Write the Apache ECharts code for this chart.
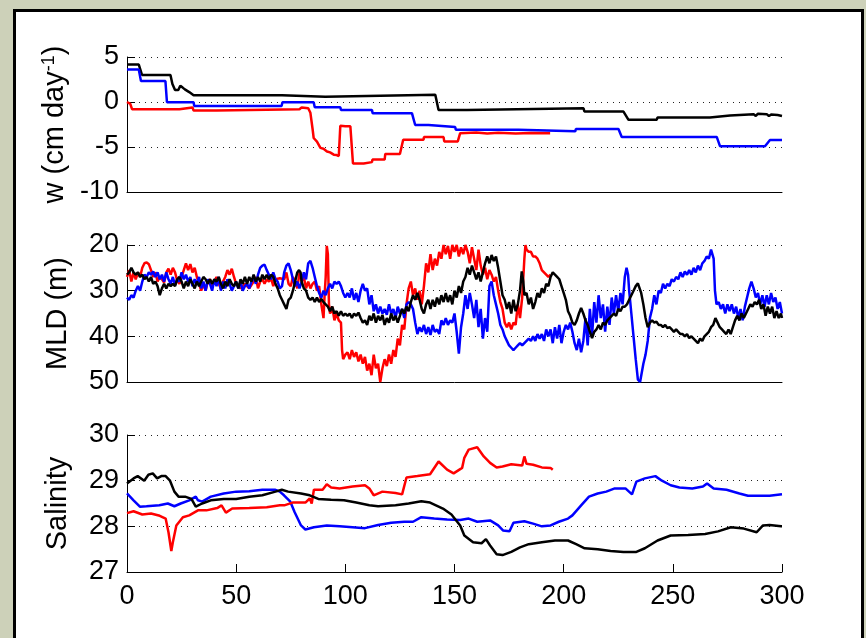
<!DOCTYPE html>
<html>
<head>
<meta charset="utf-8">
<title>w, MLD and salinity</title>
<style>
  html, body { margin: 0; padding: 0; width: 866px; height: 638px; overflow: hidden; background: #cdd1b9; }
  #frame { position: absolute; left: 13px; top: 9px; width: 851px; height: 660px; background: #ffffff; border: 3px solid #000000; box-sizing: border-box; }
  #chart { position: absolute; left: 0; top: 0; width: 866px; height: 638px; }
</style>
<script src="https://cdn.jsdelivr.net/npm/echarts@6/dist/echarts.min.js"></script>
</head>
<body>
<div id="frame"></div>
<div id="chart"></div>
<script>
// ---- x axis (days) ----
const xTicks = [0, 50, 100, 150, 200, 250, 300];

// ---- vertical velocity w (cm/day), [day, value] ----
const wRed = [[0,0],[1.5,-0.2],[2.3,-0.8],[24,-0.8],[24.4,-0.6],[30,-0.6],[30.5,-0.95],[41,-0.95],[41.3,-0.8],[79,-0.8],[80,-0.6],[83,-0.7],[84,-1.2],[85,-3.0],[85.5,-4.0],[87,-4.4],[88.6,-5.1],[90,-5.2],[91.6,-5.5],[93,-5.6],[94.7,-5.85],[96,-5.9],[97,-6.0],[97.5,-6.0],[97.7,-2.64],[100,-2.7],[102.3,-2.7],[103.5,-6.83],[108.4,-6.83],[108.6,-6.68],[112.2,-6.68],[112.4,-6.4],[118,-6.4],[118.3,-5.77],[125,-5.77],[126.5,-4.2],[130,-4.2],[135.8,-4.2],[136,-3.9],[145,-3.9],[145.3,-4.38],[151.5,-4.38],[152.6,-3.46],[160,-3.4],[165,-3.5],[170,-3.42],[178,-3.5],[185,-3.44],[193.8,-3.46]];
const wBlue = [[0,3.6],[5.4,3.6],[6.4,2.32],[17.6,2.32],[18.3,-0.03],[30.5,-0.03],[30.8,-0.44],[70.8,-0.44],[71.2,-0.03],[85.5,-0.03],[86,-0.58],[97.7,-0.58],[98,-0.88],[112.2,-0.88],[112.5,-1.24],[130.5,-1.24],[132,-2.56],[138.1,-2.56],[138.4,-2.78],[150.3,-2.78],[150.6,-3.07],[179.3,-3.07],[179.6,-3.26],[205.3,-3.26],[205.6,-3.0],[225.1,-3.0],[226.6,-3.88],[270.1,-3.88],[271.6,-4.91],[292.2,-4.91],[294.5,-4.22],[300,-4.22]];
const wBlack = [[0,4.16],[5.4,4.16],[6.9,3.0],[19.9,3.0],[20.8,2.0],[22,1.33],[23.5,1.33],[24.4,1.81],[25.5,1.6],[26.5,1.4],[28.5,1.1],[30.5,0.74],[71,0.74],[71.3,0.59],[90.8,0.59],[91.1,0.81],[141.2,0.81],[142.7,-0.88],[155.7,-0.88],[156,-0.7],[209.1,-0.7],[209.5,-1.06],[227.4,-1.06],[229.7,-1.98],[242.6,-1.98],[243,-1.72],[267,-1.72],[267.3,-1.5],[276.2,-1.5],[276.5,-1.35],[287,-1.35],[288,-1.55],[289,-1.3],[293,-1.35],[294,-1.55],[295,-1.4],[298,-1.45],[300,-1.55]];

// ---- mixed layer depth (m), [day, value] ----
const mldRed = [[0,27],[1,25.5],[2,28],[3,26],[4,27.5],[5,26],[6,27],[7,25],[8,24],[9,23.8],[10,24.2],[11,25.5],[12,27],[13,26],[14,28],[15,27],[16,27.5],[17,28.2],[18,26],[19,25.2],[20,26.5],[21,25],[22,26],[23,27.8],[24,28.5],[25,27],[26,25.5],[27,24],[28,25.5],[29,24.2],[30,26],[31,25],[32,27],[33,28.5],[34,30],[35,28.5],[36,30],[37,28],[38,27.5],[39,29],[40,28],[41,27],[42,28.5],[43,29.5],[44,28],[45,27],[46,25.5],[47,26.5],[48,25.2],[49,27],[50,28.5],[52,29.5],[54,28.5],[56,29.5],[58,28],[59,27],[60,29.5],[61,28],[62,27.5],[63,28.5],[64,27.5],[65,28],[66,27.3],[67,29],[68,27.5],[70,27.3],[72,27.5],[73,26],[74,28.5],[75,29],[76,27],[77,28],[78,29.5],[79,26],[80,28],[81,27],[82,29.5],[83,28],[84,29.5],[85,28.5],[86,28],[87,30],[88,29],[89,33],[90,36],[90.5,31],[91,27],[91.5,20.2],[92,22],[92.5,33],[93,35],[94,33.5],[95,36.5],[96,35],[97,36.5],[98,37],[98.5,43],[99,45],[100,44],[101,43.5],[102,45],[103,43],[104,44.5],[105,43.5],[106,45.5],[107,44],[108,46],[109,44.5],[110,47.5],[111,46],[112,48.5],[113,44],[114,47],[115,46],[116,50],[117,47],[118,45],[119,46.5],[120,44],[121,46],[122,43],[123,44.5],[124,40.5],[125,42],[126,37.5],[127,38.5],[128,33],[129,29.5],[130,28],[131,31],[132,29.5],[133,32],[134,30],[135,33],[136,29],[137,24],[138,26],[139,22],[140,25.5],[141,23],[142,24.5],[143,21.5],[144,23],[145,20],[146,22],[147,20.2],[148,23],[149,20],[150,21.5],[151,20],[152,22.5],[153,20.5],[154,22],[155,20],[156,21.5],[157,24],[158,20.5],[159,23],[160,25.5],[161,21],[162,24.5],[163,26.5],[164,25],[165,27.5],[166,25.5],[167,26.5],[168,28],[169,27],[170,30],[171,32.5],[172,34],[173,37],[174,38],[175,37],[176,38.5],[177,37],[178,37.5],[179,33],[180,36],[181,31.5],[182,23],[182.5,20],[183,21],[184,21.5],[185,21.5],[186,22.5],[187,22.5],[188,23],[189,24],[190,25.5],[191,26],[192,26.5],[193,27],[194,26.5]];
const mldBlue = [[0,31.5],[1,32],[2,31],[3,31.5],[4,30],[5,29],[6,30],[7,28],[8,26.5],[9,27],[10,26],[11,26.5],[12,25.8],[13,27],[14,26],[15,27.5],[16,26.5],[17,28],[18,26],[19,27.5],[20,28.5],[21,27],[22,28.8],[23,27.5],[24,28],[25,26],[26,27.5],[27,26.5],[28,28],[29,27],[30,29],[31,27.5],[32,28.5],[33,27],[34,29.5],[35,28],[36,30],[37,27.5],[38,28.5],[39,30],[40,27.5],[41,29],[42,27],[43,30],[44,28],[45,29.5],[46,27.5],[47,28.5],[48,30],[49,29],[50,28],[51,29.5],[52,28],[53,30],[54,29],[55,28.5],[56,29.5],[57,28],[58,27],[59,28.5],[60,26.5],[61,25],[62,24.5],[63,24.3],[64,25.5],[65,26.5],[66,27.5],[67,26],[68,27.5],[69,28],[70,29.5],[71,29],[72,26],[73,24.5],[74,24],[75,25.5],[76,27.5],[77,29],[78,28],[79,29.5],[80,28],[81,26],[82,27.5],[83,24],[84,23.5],[85,25],[86,27],[87,29],[88,30.5],[89,31.5],[90,30],[91,31],[92,29.5],[93,28.5],[94,29.5],[95,28],[96,28.5],[97,28],[98,29],[99,30.5],[100,31.5],[101,30.5],[102,31.5],[103,29.5],[104,32],[105,30.5],[106,32.5],[107,30],[108,28.5],[109,30],[110,29.5],[111,33],[112,31],[113,34.5],[114,33],[115,35],[116,33.5],[117,35],[118,34],[119,35.3],[120,33],[121,35],[122,34],[123,36],[124,33.5],[125,35],[126,34],[127,36],[128,33],[129,32.5],[130,33],[131,34],[132,37],[133,39.5],[134,38],[135,39],[136,37.5],[137,39.5],[138,38],[139,39.7],[140,37.5],[141,39],[142,38.5],[143,39.5],[144,36.5],[145,37.5],[146,36],[147,37.5],[148,36.5],[149,37],[150,35],[151,39],[152,43.8],[153,38],[154,35],[155,31],[156,34],[157,30.5],[158,33],[159,36],[160,32],[161,38],[162,34],[163,40.5],[164,36],[165,39],[166,29],[167,28],[168,31],[169,33],[170,35],[171,37.5],[172,38.5],[173,40],[174,41],[175,42],[176,42.5],[177,43],[178,42.5],[179,42],[180,41.5],[181,42],[182,41.5],[183,41],[184,40.5],[185,41],[186,40],[187,41],[188,39.5],[189,40.5],[190,39.5],[191,41],[192,38.5],[193,40],[194,38.5],[195,41.5],[196,38],[197,40.5],[198,37.5],[199,41.5],[200,39],[201,37.5],[202,38.5],[203,37],[204,39],[205,41.5],[206,43],[207,40.5],[208,43.5],[209,41],[210,36],[211,42],[212,34],[213,40],[214,32.5],[215,37],[216,31],[217,36],[218,33],[219,39],[220,33.5],[221,37.5],[222,31.5],[223,35],[224,31],[225,34.5],[226,30.5],[227,33],[228,27],[228.8,25],[229.5,26.5],[230,30],[231,35],[232,40],[233,45],[234,49.5],[235,50],[235.7,50],[236.5,46],[237.5,44],[238.5,41],[239.5,36],[240.5,34],[241.5,31],[242.5,33],[243.5,30],[244.5,30.5],[245.5,28.5],[246.5,29.5],[247.5,28.5],[248.5,29],[249.5,27.5],[250.5,28],[251.5,27],[252.5,27.5],[253.5,26],[254.5,27],[255.5,25.8],[256.5,26.5],[257.5,25.5],[258.5,26.5],[259.5,25],[260.5,26],[261.5,24.5],[262.5,25.5],[263.5,24],[264.5,23.5],[265.5,22.5],[266.5,23],[267.5,21],[268,20.7],[268.7,23],[269.3,30],[270,33],[271,32.5],[272,34],[273,33],[274,35],[275,33],[276,34.5],[277,33],[278,35],[279,33.5],[280,36],[281,34],[282,36.5],[283,33.5],[284,31.5],[285,29.5],[286,28],[287,29.5],[288,31.5],[289,30.5],[290,33],[291,31],[292,33.5],[293,31],[294,33],[295,30.5],[296,32.5],[297,31.5],[298,34],[299,32.5],[300,35]];
const mldBlack = [[0,26.5],[1,26],[2,25],[3,26],[4,26.5],[5,26],[6,27],[7,26.5],[8,27.5],[9,27],[10,28],[11,27],[12,28.5],[13,28],[14,29],[15,31],[16,29.5],[17,28.5],[18,29.5],[19,28.5],[20,29],[21,28.5],[22,29],[23,27.5],[24,27],[25,28],[26,29.5],[27,28],[28,29],[29,27.5],[30,28.5],[31,29.5],[32,28],[33,29],[34,28],[35,27],[36,27.5],[37,28.5],[38,27.5],[39,28.5],[40,27.5],[41,28],[42,27],[43,28.5],[44,29.5],[45,28],[46,29],[47,27.5],[48,28.5],[49,29],[50,28],[51,29.5],[52,27.5],[53,28.5],[54,27],[55,28.5],[56,27],[57,28],[58,26.5],[59,28],[60,27],[61,28],[62,26.5],[63,27.5],[64,26.5],[65,27.5],[66,26.5],[67,27],[68,28.5],[69,29.5],[70,31],[71,32],[72,33],[73,34],[74,32],[75,31.5],[76,30],[77,28],[78,26],[78.8,25.5],[79.5,26],[80,28],[81,29.5],[82,30],[83,31.5],[84,32],[85,31.5],[86,32.5],[87,31.5],[88,32.5],[89,31.8],[90,32.5],[91,33],[92,33.5],[93,34.5],[94,33.5],[95,35],[96,34.5],[97,35.5],[98,34.5],[99,35.5],[100,35],[101,35.5],[102,35],[103,36],[104,35],[105,35.5],[106,34.8],[107,36],[108,37],[109,36.5],[110,37.5],[111,35.5],[112,36.5],[113,35],[114,37],[115,35.5],[116,36.5],[117,35.3],[118,37.5],[119,36],[120,37],[121,35],[122,36.5],[123,35.5],[124,37],[125,35.5],[126,34],[127,35],[128,33.5],[129,34.5],[130,32.5],[131,31],[132,32],[133,30.5],[134,32],[135,34],[136,35],[137,33],[138,32],[139,34],[140,32],[141,33.5],[142,31.5],[143,33],[144,31],[145,32.5],[146,30.5],[147,32.5],[148,31],[149,33],[150,30],[151,31.5],[152,29],[153,30.5],[154,28],[155,27],[156,25],[157,26.5],[158,24.5],[159,26],[160,27.5],[161,26],[162,28],[163,26],[164,24],[165,22.5],[166,24],[167,22.2],[168,23.5],[169,22.5],[170,25],[171,28],[172,31],[173,32],[174,34],[175,32.5],[176,35],[177,32],[178,34.5],[179,33],[180,30],[180.8,25.8],[181.5,28],[182,31],[183,30.5],[184,33],[185,31.5],[186,34],[187,32.5],[188,30.5],[189,31.5],[190,29.5],[191,30.5],[192,28.5],[193,29],[194,27],[195,26],[195.5,25.8],[196,26.5],[197,27],[198,27.5],[199,29],[200,30.5],[201,32],[202,34.5],[203,35.5],[204,37],[205,37.5],[206,36.5],[207,35],[208,33.8],[209,35],[210,36.5],[211,37.5],[212,39],[213,40.4],[214,39],[215,38.5],[216,37.5],[217,38.5],[218,37],[219,37.5],[220,36.5],[221,36],[222,35.5],[223,35],[224,35.5],[225,34],[226,34.5],[227,33.5],[228,33.5],[229,33],[230,32],[231,31],[232,30],[233,29],[234,28.4],[234.8,28.8],[235.5,30.5],[236.5,33],[237.5,36],[238.5,38],[239.5,37],[240.5,36.5],[241.5,37],[242.5,36.8],[243.5,37.5],[244.5,37.5],[245.5,38],[246.5,37.5],[247.5,38.2],[248.5,38],[249.5,38.5],[250.5,39],[251.5,38.5],[252.5,39],[253.5,39.5],[254.5,39.5],[255.5,40],[256.5,39.5],[257.5,40.4],[258.5,40],[259.5,40.5],[260.5,41],[261.5,41.5],[262.5,40.5],[263.5,41],[264.5,40],[265.5,39.5],[266.5,39],[267.5,38],[268.5,37.5],[269.5,36],[270.5,37],[271.5,38],[272.5,38.5],[273.5,39],[274.5,39.5],[275.5,38.5],[276.5,39.5],[277.5,38],[278.5,36.5],[279.5,35.5],[280.5,36.5],[281.5,35],[282.5,36],[283.5,35],[284.5,34],[285.5,33],[286.5,33.5],[287.5,32.5],[288.5,33],[289.5,32],[290.5,34],[291.5,33],[292.5,35.5],[293.5,33.5],[294.5,35],[295.5,33.5],[296.5,36],[297.5,34.5],[298.5,36],[299.5,35],[300,36]];

// ---- salinity, [day, value] ----
const salRed = [[0,28.29],[3,28.33],[7,28.26],[11,28.28],[15,28.23],[17.7,28.17],[19,27.87],[20.3,27.46],[21,27.65],[22.6,28.02],[25.6,28.2],[28.5,28.24],[32.5,28.35],[36.4,28.35],[41.3,28.4],[43.3,28.46],[45.3,28.3],[48.2,28.39],[56,28.4],[64,28.42],[70,28.46],[72,28.46],[75.8,28.52],[81.7,28.52],[83.7,28.61],[84.6,28.5],[85.6,28.8],[89.6,28.8],[91.5,28.92],[93.5,28.85],[97.4,28.83],[103.3,28.87],[109,28.9],[111,28.83],[113,28.68],[117,28.76],[123,28.73],[126,28.7],[128,29.07],[133,29.1],[138.8,29.14],[142.7,29.42],[146.6,29.24],[149.6,29.16],[153.5,29.28],[154.5,29.5],[156.5,29.68],[160.4,29.73],[163.4,29.53],[166.3,29.39],[169.3,29.29],[172,29.31],[176,29.36],[181,29.33],[182,29.53],[183,29.37],[186,29.35],[190,29.29],[194,29.28],[195,29.24]];
const salBlue = [[0,28.72],[3,28.57],[5.9,28.43],[8.9,28.44],[14.8,28.46],[18.7,28.5],[21.7,28.44],[24.6,28.5],[28.5,28.57],[31.5,28.65],[32.5,28.57],[34.4,28.54],[38.4,28.65],[44.3,28.72],[50,28.76],[56,28.77],[62,28.8],[68,28.8],[70,28.76],[71.9,28.68],[74.8,28.54],[76.8,28.31],[79.7,28.02],[81.7,27.93],[85.6,27.98],[91.5,28.02],[97.4,28.0],[103.3,27.98],[109,27.96],[115,28.03],[121,28.08],[127,28.1],[131,28.1],[134.8,28.2],[140.7,28.17],[146.6,28.15],[152.6,28.14],[156.5,28.17],[160.4,28.1],[166.3,28.13],[170,28.02],[172.2,27.91],[175.2,27.89],[177,28.08],[182,28.11],[186,28.06],[190,28.0],[194,28.02],[197.8,28.1],[202,28.17],[204,28.24],[208,28.46],[211.6,28.65],[215.6,28.72],[219.5,28.76],[223.4,28.83],[228.3,28.83],[231.3,28.7],[233.3,28.98],[237.2,29.05],[242,29.1],[245,29.0],[249,28.9],[253,28.85],[258.9,28.83],[263.8,28.87],[265.7,28.94],[268.7,28.83],[274.6,28.8],[280.5,28.72],[284.4,28.67],[290.3,28.67],[294.3,28.67],[300,28.7]];
const salBlack = [[0,28.94],[3,29.05],[4.9,29.1],[7.9,29.0],[9.8,29.13],[11.8,29.16],[13.8,29.05],[15.7,29.1],[17.7,29.1],[19.7,29.0],[21.7,28.76],[23.6,28.65],[26.6,28.65],[29.5,28.6],[31.5,28.43],[34.4,28.5],[38.4,28.57],[44.3,28.6],[50,28.6],[56,28.65],[62,28.68],[68,28.76],[70.9,28.8],[73.8,28.76],[79.7,28.72],[83.7,28.68],[87.6,28.6],[93.5,28.58],[99.4,28.57],[105,28.52],[111,28.46],[115,28.44],[123,28.46],[129,28.5],[134.8,28.55],[138.8,28.52],[144.7,28.39],[148.6,28.26],[152.6,28.02],[154.5,27.8],[158.5,27.65],[162.4,27.63],[164.4,27.72],[166.3,27.58],[169.3,27.39],[172,27.37],[176,27.44],[180,27.54],[184,27.61],[190,27.65],[196,27.69],[202,27.69],[205.7,27.61],[209.6,27.52],[215.6,27.5],[221.5,27.46],[227.4,27.44],[233.3,27.44],[237.2,27.52],[243,27.69],[249,27.8],[257,27.81],[264.8,27.83],[270.7,27.89],[276.6,27.98],[282.5,27.95],[288.4,27.87],[291.3,28.02],[294.3,28.03],[299.6,28.0],[300,28.0]];

const FONT = '"Liberation Sans", Arial, Helvetica, sans-serif';
const INK = '#000000';

const panelTops = [57, 245, 435];
const panelHeights = [135, 137, 137];

function xAxisFor(i, showLabels) {
  return {
    type: 'value', gridIndex: i, min: xTicks[0], max: xTicks[xTicks.length - 1], interval: 50,
    axisLine: { show: true, onZero: false, lineStyle: { color: INK, width: 1 } },
    axisTick: { show: showLabels, inside: true, length: 8, lineStyle: { color: INK, width: 1 } },
    axisLabel: { show: showLabels, color: INK, fontFamily: FONT, fontSize: 27, margin: 11 },
    splitLine: { show: false }
  };
}

function yAxisFor(i, opts) {
  return Object.assign({
    type: 'value', gridIndex: i,
    nameLocation: 'middle', nameGap: 55,
    nameTextStyle: { color: INK, fontFamily: FONT, fontSize: 29 },
    axisLine: { show: true, onZero: false, lineStyle: { color: INK, width: 1 } },
    axisTick: { show: true, inside: true, length: 8, lineStyle: { color: INK, width: 1 } },
    axisLabel: { color: INK, fontFamily: FONT, fontSize: 27, margin: 8 },
    splitLine: { show: true, lineStyle: { color: '#222', width: 1, type: [1, 5] } }
  }, opts);
}

function line(data, color, i) {
  return {
    type: 'line', data: data, xAxisIndex: i, yAxisIndex: i,
    showSymbol: false, symbol: 'none', silent: true,
    lineStyle: { color: color, width: 2.5 }, itemStyle: { color: color }
  };
}

const chart = echarts.init(document.getElementById('chart'), null, { renderer: 'canvas' });
chart.setOption({
  backgroundColor: 'transparent',
  animation: false,
  grid: panelTops.map((t, i) => ({ left: 127, width: 655, top: t, height: panelHeights[i] })),
  xAxis: [xAxisFor(0, false), xAxisFor(1, false), xAxisFor(2, true)],
  yAxis: [
    yAxisFor(0, {
      min: -10, max: 5, interval: 5,
      name: '{n|w (cm day}{s|-1}{n|)}',
      nameGap: 56,
      nameTextStyle: {
        color: INK, fontFamily: FONT, fontSize: 29,
        rich: {
          n: { fontFamily: FONT, fontSize: 29, color: INK },
          s: { fontFamily: FONT, fontSize: 18, color: INK, verticalAlign: 'top', padding: [0, 0, 12, 0] }
        }
      }
    }),
    yAxisFor(1, { min: 20, max: 50, interval: 10, inverse: true, name: 'MLD (m)' }),
    yAxisFor(2, { min: 27, max: 30, interval: 1, name: 'Salinity' })
  ],
  series: [
    line(wBlack, '#000000', 0), line(wBlue, '#0000ff', 0), line(wRed, '#ff0000', 0),
    line(mldRed, '#ff0000', 1), line(mldBlue, '#0000ff', 1), line(mldBlack, '#000000', 1),
    line(salBlue, '#0000ff', 2), line(salRed, '#ff0000', 2), line(salBlack, '#000000', 2)
  ]
});
</script>
</body>
</html>
